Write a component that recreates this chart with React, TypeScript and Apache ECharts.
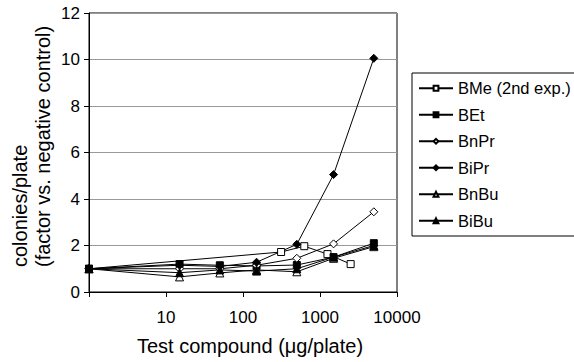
import React, { useEffect, useRef } from "react";
import * as echarts from "echarts";

const doses = [1, 15, 50, 150, 500, 1500, 5000];
const bmeDoses = [1, 312.5, 625, 1250, 2500];
const bmeValues = [1, 1.72, 1.97, 1.63, 1.2];
const betValues = [1, 1.2, 1.15, 1.12, 1.16, 1.5, 2.1];
const bnprValues = [1, 1.0, 1.0, 1.15, 1.45, 2.07, 3.45];
const biprValues = [1, 1.15, 1.1, 1.28, 2.05, 5.05, 10.05];
const bnbuValues = [1, 0.65, 0.82, 0.95, 0.87, 1.45, 1.95];
const bibuValues = [1, 0.83, 0.95, 0.9, 1.0, 1.5, 2.0];

const seriesNames = ["BMe (2nd exp.)", "BEt", "BnPr", "BiPr", "BnBu", "BiBu"];
const xTickLabels = ["10", "100", "1000", "10000"];

const FONT = "'Liberation Sans', Arial, sans-serif";

function pairs(xs: number[], ys: number[]) {
  return ys.map((y, i) => [xs[i], y]);
}

function mkSeries(name: string, data: number[][], symbol: string, open: boolean, size: number) {
  return {
    name,
    type: "line",
    data,
    symbol,
    symbolSize: size,
    showSymbol: true,
    lineStyle: { color: "#000", width: 1 },
    itemStyle: {
      color: open ? "#fff" : "#000",
      borderColor: "#000",
      borderWidth: 1,
    },
    emphasis: { disabled: true },
  };
}

export default function App() {
  const ref = useRef<HTMLDivElement>(null);
  useEffect(() => {
    document.body.style.margin = "0";
    const chart = echarts.init(ref.current!, null, { renderer: "svg" });
    chart.setOption({
      animation: false,
      backgroundColor: "#fff",
      textStyle: { fontFamily: FONT },
      grid: {
        left: 89,
        right: 177,
        top: 13,
        bottom: 70,
        show: true,
        borderColor: "#000",
        borderWidth: 1,
      },
      xAxis: {
        type: "log",
        logBase: 10,
        min: 1,
        max: 10000,
        axisLine: { lineStyle: { color: "#000", width: 1 } },
        axisTick: { show: true, inside: false, length: 5, lineStyle: { color: "#000" } },
        minorTick: { show: false },
        splitLine: { show: false },
        axisLabel: {
          color: "#000",
          fontSize: 17,
          fontFamily: FONT,
          margin: 17,
          formatter: (v: number) => {
            const s = String(Math.round(v));
            return xTickLabels.includes(s) ? s : "";
          },
        },
      },
      yAxis: {
        type: "value",
        min: 0,
        max: 12,
        interval: 2,
        axisLine: { show: true, lineStyle: { color: "#000", width: 1 } },
        axisTick: { show: true, inside: false, length: 5, lineStyle: { color: "#000" } },
        splitLine: { show: true, lineStyle: { color: "#999", width: 1 } },
        axisLabel: { color: "#000", fontSize: 17, fontFamily: FONT, margin: 9 },
      },
      legend: {
        orient: "vertical",
        left: 412,
        top: 73,
        data: seriesNames,
        itemWidth: 34,
        itemHeight: 6,
        itemGap: 8,
        padding: [6, 30, 6, 6],
        borderColor: "#000",
        borderWidth: 1,
        backgroundColor: "#fff",
        textStyle: { color: "#000", fontSize: 16.5, fontFamily: FONT, lineHeight: 18.5, padding: [0, 0, 0, 0] },
      },
      graphic: [
        {
          type: "text",
          x: 31,
          y: 267,
          rotation: Math.PI / 2,
          style: {
            text: "colonies/plate\n(factor vs. negative control)",
            font: `20px ${FONT}`,
            fill: "#000",
            align: "left",
            verticalAlign: "middle",
            lineHeight: 23,
          },
        },
        {
          type: "text",
          x: 250,
          y: 346,
          style: {
            text: "Test compound (μg/plate)",
            font: `20px ${FONT}`,
            fill: "#000",
            align: "center",
            verticalAlign: "middle",
          },
        },
      ],
      series: [
        mkSeries(seriesNames[0], pairs(bmeDoses, bmeValues), "rect", true, 7),
        mkSeries(seriesNames[1], pairs(doses, betValues), "rect", false, 7),
        mkSeries(seriesNames[2], pairs(doses, bnprValues), "diamond", true, 8),
        mkSeries(seriesNames[3], pairs(doses, biprValues), "diamond", false, 8),
        mkSeries(seriesNames[4], pairs(doses, bnbuValues), "triangle", true, 8),
        mkSeries(seriesNames[5], pairs(doses, bibuValues), "triangle", false, 8),
      ],
    });
    return () => chart.dispose();
  }, []);
  return <div ref={ref} style={{ width: 574, height: 362 }} />;
}
